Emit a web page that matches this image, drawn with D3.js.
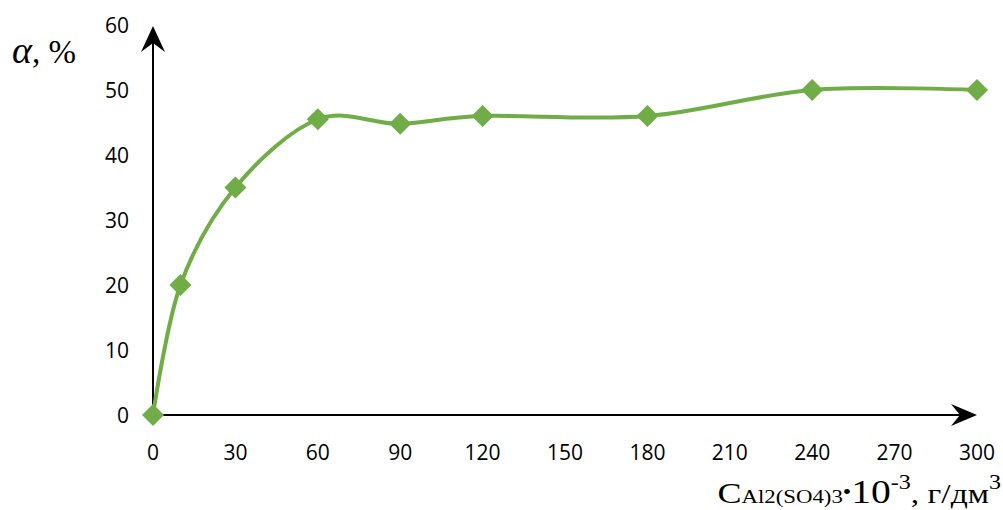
<!DOCTYPE html>
<html>
<head>
<meta charset="utf-8">
<script src="https://cdn.jsdelivr.net/npm/d3@7"></script>
<style>
  html, body { margin: 0; padding: 0; background: #fff; }
  svg { display: block; }
</style>
</head>
<body>
<svg id="chart" width="1003" height="510"></svg>
<script>
// Concentration of Al2(SO4)3 (x10^-3 g/dm3) and degree alpha (%)
const concentration = [0, 10, 30, 60, 90, 120, 180, 240, 300];
const alphaValues = [0, 20, 35, 45.5, 44.8, 46, 46, 50, 50];
const xTicks = [0, 30, 60, 90, 120, 150, 180, 210, 240, 270, 300];
const yTicks = [0, 10, 20, 30, 40, 50, 60];

const svg = d3.select("#chart");
const green = "#70AD47";

const x = d3.scaleLinear().domain([0, 300]).range([153, 977]);
const y = d3.scaleLinear().domain([0, 60]).range([415, 25]);

// Axis lines with arrowheads
svg.append("line")
  .attr("x1", x(0)).attr("y1", y(0))
  .attr("x2", 970).attr("y2", y(0))
  .attr("stroke", "#000").attr("stroke-width", 2);
svg.append("line")
  .attr("x1", x(0)).attr("y1", y(0))
  .attr("x2", x(0)).attr("y2", 34)
  .attr("stroke", "#000").attr("stroke-width", 2);

// arrow on x axis
const xa = 977, ya = y(0);
svg.append("path")
  .attr("d", `M${xa},${ya} L${xa - 26},${ya - 11} L${xa - 17},${ya} L${xa - 26},${ya + 11} Z`)
  .attr("fill", "#000");
// arrow on y axis
const xb = x(0), yb = 26;
svg.append("path")
  .attr("d", `M${xb},${yb} L${xb - 12},${yb + 26} L${xb},${yb + 17} L${xb + 12},${yb + 26} Z`)
  .attr("fill", "#000");

// Tick labels
const tickFont = "'Open Sans', 'Noto Sans', sans-serif";
svg.append("g").selectAll("text")
  .data(yTicks).join("text")
  .attr("x", 129).attr("y", d => y(d))
  .attr("dy", "0.36em")
  .attr("text-anchor", "end")
  .attr("font-family", tickFont).attr("font-size", 21)
  .attr("fill", "#000")
  .text(d => d);

svg.append("g").selectAll("text")
  .data(xTicks).join("text")
  .attr("x", d => x(d)).attr("y", 452)
  .attr("dy", "0.36em")
  .attr("text-anchor", "middle")
  .attr("font-family", tickFont).attr("font-size", 21)
  .attr("fill", "#000")
  .text(d => d);

// Data series: smoothed line + diamond markers
const data = concentration.map((c, i) => ({ c, a: alphaValues[i] }));
const line = d3.line()
  .x(d => x(d.c)).y(d => y(d.a))
  .curve(d3.curveCatmullRom.alpha(0));

svg.append("path")
  .datum(data)
  .attr("d", line)
  .attr("fill", "none")
  .attr("stroke", green)
  .attr("stroke-width", 4);

const diamond = d3.symbol().type(d3.symbolDiamond2).size(310);
svg.append("g").selectAll("path")
  .data(data).join("path")
  .attr("transform", d => `translate(${x(d.c)},${y(d.a)})`)
  .attr("d", diamond)
  .attr("fill", green);

// Axis titles
const serif = "'Liberation Serif', 'DejaVu Serif', serif";
const yTitle = svg.append("text")
  .attr("x", 12).attr("y", 63)
  .attr("font-family", serif).attr("font-size", 33)
  .attr("fill", "#000");
yTitle.append("tspan").attr("font-style", "italic").attr("font-size", 38).text("α");
yTitle.append("tspan").text(", %");

// x title, set in a slightly widened serif face
const xTitle = svg.append("text")
  .attr("transform", "translate(1001,503) scale(1.2,1)")
  .attr("x", 0).attr("y", 0)
  .attr("text-anchor", "end")
  .attr("font-family", serif)
  .attr("fill", "#000");
xTitle.append("tspan").attr("font-size", 30).text("C");
xTitle.append("tspan").attr("font-size", 19).text("Al2(SO4)3");
xTitle.append("tspan").attr("font-size", 20).attr("dy", -4).text("•");
xTitle.append("tspan").attr("font-size", 33).attr("dy", 4).text("10");
xTitle.append("tspan").attr("font-size", 20).attr("dy", -14).text("-3");
xTitle.append("tspan").attr("font-size", 28).attr("dy", 14).text(", г/дм");
xTitle.append("tspan").attr("font-size", 20).attr("dy", -14).text("3");
</script>
</body>
</html>
